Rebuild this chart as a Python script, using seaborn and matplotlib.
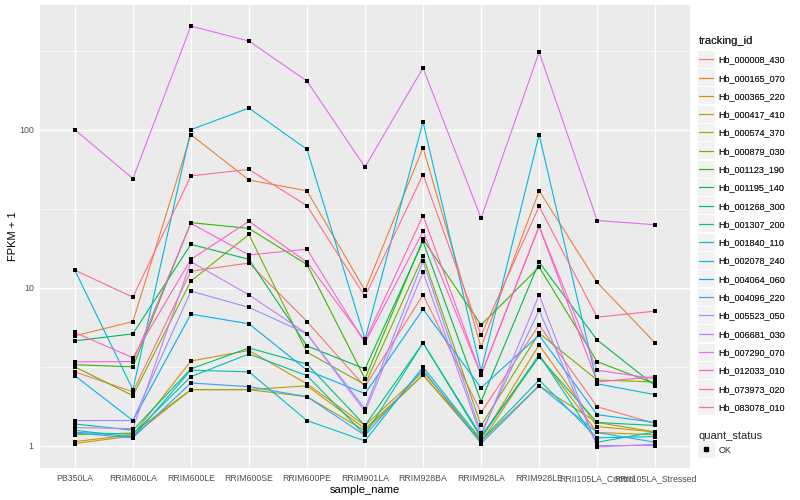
import numpy as np
import pandas as pd
import matplotlib
matplotlib.use("Agg")
import matplotlib.pyplot as plt
from matplotlib.lines import Line2D
from matplotlib.patches import Rectangle
import seaborn as sns

samples = ["PB350LA", "RRIM600LA", "RRIM600LE", "RRIM600SE", "RRIM600PE", "RRIM901LA",
           "RRIM928BA", "RRIM928LA", "RRIM928LE", "RRII105LA_Control", "RRII105LA_Stressed"]

ids = ["Hb_000008_430", "Hb_000165_070", "Hb_000365_220", "Hb_000417_410", "Hb_000574_370",
       "Hb_000879_030", "Hb_001123_190", "Hb_001195_140", "Hb_001268_300", "Hb_001307_200",
       "Hb_001840_110", "Hb_002078_240", "Hb_004064_060", "Hb_004096_220", "Hb_005523_050",
       "Hb_006681_030", "Hb_007290_070", "Hb_012033_010", "Hb_073973_020", "Hb_083078_010"]

colores = ["#F8766D", "#EA8331", "#D89000", "#C09B00", "#A3A500", "#7CAE00", "#39B600",
           "#00BB4E", "#00BF7D", "#00C1A3", "#00BFC4", "#00BAE0", "#00B0F6", "#35A2FF",
           "#9590FF", "#C77CFF", "#E76BF3", "#FA62DB", "#FF62BC", "#FF6C90"]

# FPKM + 1 por amostra (mesma ordem de samples)
hb_000008_430 = [2.93, 2.19, 12.7, 14.3, 6.1, 2.36, 9.0, 1.62, 5.8, 1.76, 1.38]
hb_000165_070 = [4.95, 6.1, 93, 48, 41, 9.6, 77, 4.2, 41, 10.8, 4.46]
hb_000365_220 = [1.06, 1.17, 3.43, 4.0, 2.46, 1.34, 2.93, 1.10, 4.34, 1.32, 1.22]
hb_000417_410 = [1.03, 1.15, 2.26, 2.26, 2.39, 1.28, 2.80, 1.05, 3.75, 1.21, 1.17]
hb_000574_370 = [1.17, 1.20, 2.26, 2.26, 2.04, 1.24, 2.80, 1.07, 2.39, 1.40, 1.22]
hb_000879_030 = [3.15, 2.07, 11.0, 21.7, 3.9, 2.43, 15.8, 1.34, 5.15, 2.6, 2.53]
hb_001123_190 = [3.25, 3.15, 25.8, 23.7, 14.0, 2.65, 20.2, 5.8, 13.5, 3.4, 2.46]
hb_001195_140 = [4.6, 5.1, 18.8, 15.1, 4.27, 3.06, 19.6, 1.9, 14.5, 4.66, 2.39]
hb_001268_300 = [1.37, 1.25, 3.06, 4.15, 3.28, 1.34, 4.47, 1.15, 3.64, 1.40, 1.34]
hb_001307_200 = [1.21, 1.18, 2.73, 3.8, 2.77, 1.17, 4.47, 1.12, 3.75, 1.05, 1.22]
hb_001840_110 = [1.25, 1.13, 3.0, 2.93, 1.44, 1.07, 3.15, 1.08, 2.6, 1.12, 1.14]
hb_002078_240 = [12.9, 2.26, 100, 137, 75, 4.72, 112, 2.97, 93, 2.46, 2.1]
hb_004064_060 = [2.77, 1.44, 6.8, 5.9, 3.0, 2.13, 7.3, 2.32, 5.0, 1.57, 1.40]
hb_004096_220 = [1.20, 1.12, 2.49, 2.36, 2.04, 1.16, 3.02, 1.03, 2.39, 1.21, 1.05]
hb_005523_050 = [1.44, 1.44, 9.5, 7.5, 5.1, 1.71, 14.7, 1.20, 7.2, 1.0, 1.0]
hb_006681_030 = [1.30, 1.28, 14.6, 9.0, 5.1, 1.64, 12.5, 1.15, 9.0, 0.98, 1.02]
hb_007290_070 = [100, 49, 453, 364, 203, 58, 246, 27.5, 310, 26.6, 25]
hb_012033_010 = [3.39, 3.4, 25.5, 16.1, 17.5, 4.47, 22.7, 2.8, 24.4, 3.0, 2.65]
hb_073973_020 = [5.2, 3.6, 15.1, 26.3, 14.5, 4.6, 28.6, 2.8, 24.4, 2.53, 2.73]
hb_083078_010 = [12.9, 8.7, 51, 56, 33, 8.8, 52, 5.0, 32.7, 6.5, 7.1]

valores = [hb_000008_430, hb_000165_070, hb_000365_220, hb_000417_410, hb_000574_370,
           hb_000879_030, hb_001123_190, hb_001195_140, hb_001268_300, hb_001307_200,
           hb_001840_110, hb_002078_240, hb_004064_060, hb_004096_220, hb_005523_050,
           hb_006681_030, hb_007290_070, hb_012033_010, hb_073973_020, hb_083078_010]

linhas = []
for tid, serie in zip(ids, valores):
    for amostra, v in zip(samples, serie):
        linhas.append({"tracking_id": tid, "sample_name": amostra, "fpkm": v, "quant_status": "OK"})
df = pd.DataFrame(linhas)
df["sample_name"] = pd.Categorical(df["sample_name"], categories=samples, ordered=True)
df["x"] = df["sample_name"].cat.codes

sns.set_theme(style="darkgrid")
plt.rcParams["font.family"] = ["Liberation Sans", "DejaVu Sans"]

cinza = "#4D4D4D"

fig, ax = plt.subplots(figsize=(8, 5), dpi=100)
fig.subplots_adjust(left=0.05, right=0.8625, top=0.99, bottom=0.064)
ax.set_facecolor("#EBEBEB")

sns.lineplot(data=df, x="x", y="fpkm", hue="tracking_id", hue_order=ids,
             palette=colores, sort=True, linewidth=0.8, legend=False, ax=ax, zorder=2)
sns.scatterplot(data=df, x="x", y="fpkm", color="black", marker="s", s=9,
                linewidth=0, legend=False, ax=ax, zorder=3)

ax.set_yscale("log")
lo, hi = np.log10(df["fpkm"].min()), np.log10(df["fpkm"].max())
pad = 0.05 * (hi - lo)
ax.set_ylim(10 ** (lo - pad), 10 ** (hi + pad))
ax.set_xlim(-0.6, len(samples) - 0.4)

ax.set_yticks([1, 10, 100])
ax.set_yticklabels(["1", "10", "100"])
ax.set_yticks([10 ** 0.5, 10 ** 1.5, 10 ** 2.5], minor=True)
ax.set_xticks(range(len(samples)))
ax.set_xticklabels(samples)
ax.set_xticks([], minor=True)

ax.grid(which="major", color="white", linewidth=1.0)
ax.grid(which="minor", axis="y", color="white", linewidth=0.5)
ax.set_axisbelow(True)
for s in ax.spines.values():
    s.set_visible(False)

ax.tick_params(axis="both", which="major", length=2.5, width=0.6, color="#333333",
               labelsize=6.3, labelcolor=cinza, pad=2)
ax.tick_params(axis="y", which="minor", length=0)

ax.set_xlabel("sample_name", fontsize=8, color="black", labelpad=1)
ax.set_ylabel("FPKM + 1", fontsize=8, color="black", labelpad=0.5)

# legendas
handles = [Line2D([0], [0], color=c, linewidth=0.8) for c in colores]
leg1 = fig.legend(handles, ids, loc="upper left", bbox_to_anchor=(0.869, 0.935),
                  frameon=False, fontsize=6.5, title="tracking_id", title_fontsize=8,
                  handlelength=1.6, handletextpad=0.6, labelspacing=1.03,
                  alignment="left", borderaxespad=0)

ponto = [Line2D([0], [0], color="black", marker="s", markersize=3, linestyle="none")]
leg2 = fig.legend(ponto, ["OK"], loc="upper left", bbox_to_anchor=(0.869, 0.145),
                  frameon=False, fontsize=6.5, title="quant_status", title_fontsize=8,
                  handlelength=1.6, handletextpad=0.6, alignment="left", borderaxespad=0)
fig.add_artist(leg1)

# fundo cinza das chaves da legenda, como no ggplot
fig.canvas.draw()
rend = fig.canvas.get_renderer()
for leg in (leg1, leg2):
    for h in leg.legend_handles:
        bb = h.get_window_extent(rend)
        cx, cy = (bb.x0 + bb.x1) / 2, (bb.y0 + bb.y1) / 2
        fig.add_artist(Rectangle(((cx - 8.5) / 800, (cy - 8.5) / 500), 17 / 800, 17 / 500,
                                 transform=fig.transFigure, facecolor="#F2F2F2",
                                 edgecolor="none", zorder=-1))

fig.savefig("out.png", dpi=100)
